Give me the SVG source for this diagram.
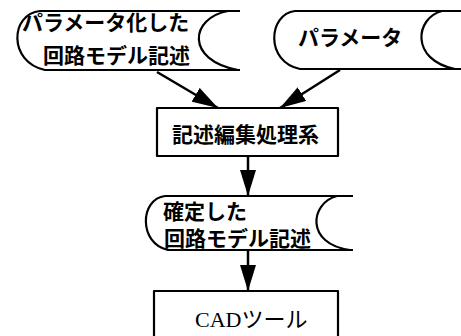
<svg xmlns="http://www.w3.org/2000/svg" width="461" height="336" viewBox="0 0 461 336">
<style>
.shape{fill:none;stroke:#000;stroke-width:2.2;stroke-linejoin:round}
.lbl{font-family:"Noto Sans CJK JP","Noto Sans",sans-serif;font-weight:bold;font-size:21px;fill:#000}
.cad{font-family:"Liberation Serif","Noto Sans CJK JP",serif;font-size:22px;fill:#000}
.conn{stroke:#000;stroke-width:2.5;fill:none}
</style>
<defs>
<marker id="ah" markerUnits="userSpaceOnUse" markerWidth="28" markerHeight="16" refX="26" refY="8" orient="auto">
<path d="M0,0 L26,8 L0,16 z" fill="#000"/>
</marker>
</defs>
<rect width="461" height="336" fill="#fff"/>
<g id="param-model">
<path class="shape" d="M240 11 H40 C10 14 8 62 45 70 H240"/>
<path class="shape" d="M228 11 C190 18 185 60 238 70"/>
<text class="lbl" x="22" y="30">パラメータ化した</text>
<text class="lbl" x="43" y="63">回路モデル記述</text>
</g>
<g id="param">
<path class="shape" d="M461 11 H295 C268 14 265 62 300 69 H461"/>
<path class="shape" d="M442 11 C415 18 410 60 455 69"/>
<text class="lbl" x="298" y="45">パラメータ</text>
</g>
<g id="editor">
<rect class="shape" x="157" y="108" width="181" height="48"/>
<text class="lbl" x="172" y="142">記述編集処理系</text>
</g>
<g id="fixed-model">
<path class="shape" d="M353 196 H165 C140 199 138 243 168 250 H353"/>
<path class="shape" d="M337 196 C310 203 305 244 350 250"/>
<text class="lbl" x="163" y="219">確定した</text>
<text class="lbl" x="164" y="246">回路モデル記述</text>
</g>
<g id="cad">
<path class="shape" d="M154 345 V291 H338 V345"/>
<text class="cad" x="195" y="327">CADツール</text>
</g>
<g id="connectors">
<line class="conn" x1="157" y1="72" x2="218" y2="108" marker-end="url(#ah)"/>
<line class="conn" x1="340" y1="70" x2="280" y2="108" marker-end="url(#ah)"/>
<line class="conn" x1="248" y1="156" x2="248" y2="196" marker-end="url(#ah)"/>
<line class="conn" x1="248" y1="250" x2="248" y2="291" marker-end="url(#ah)"/>
</g>
</svg>
